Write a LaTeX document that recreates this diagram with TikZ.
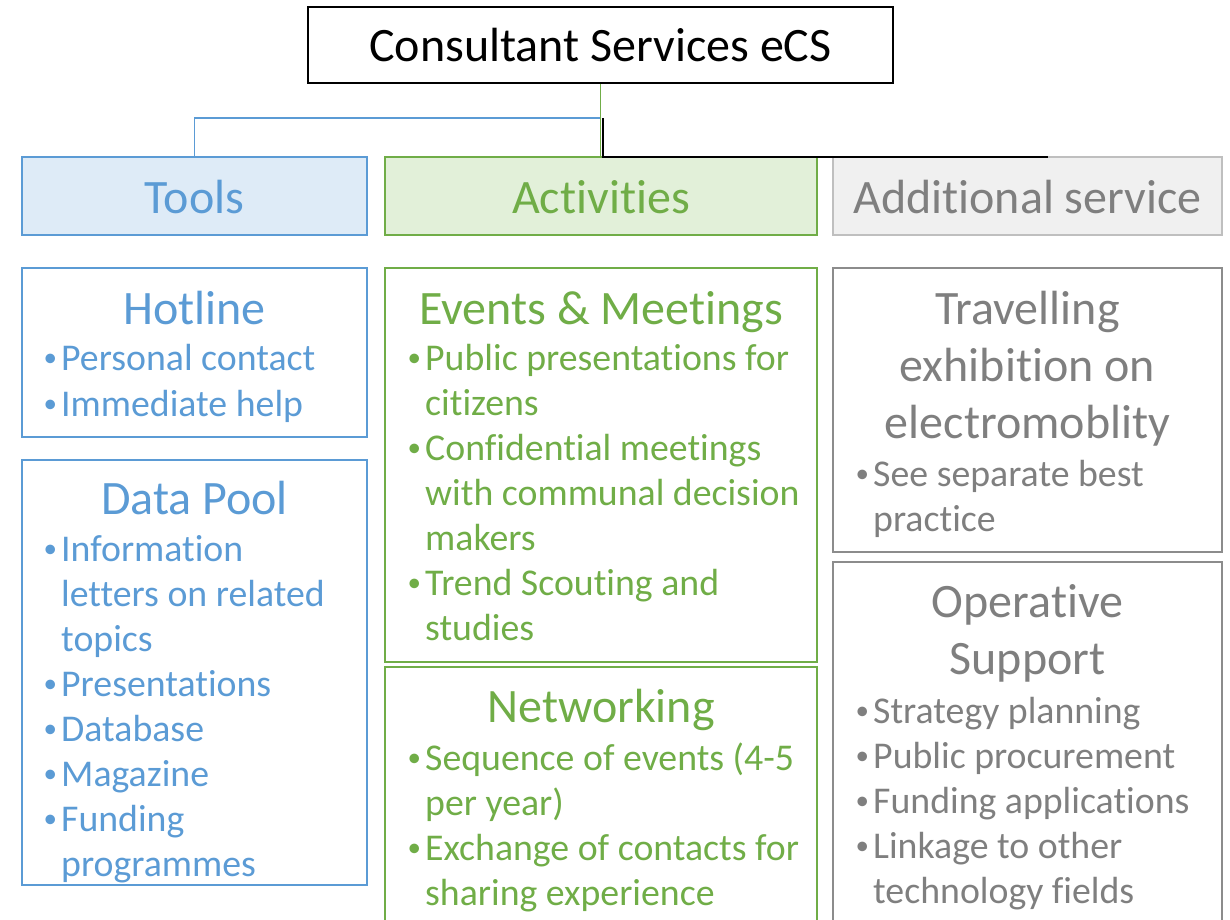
\documentclass[tikz,border=0pt]{standalone}
\usepackage{fontspec}
\setmainfont{Carlito}[Ligatures={NoCommon}]
\definecolor{cblue}{HTML}{5B9BD5}
\definecolor{cbluefill}{HTML}{DEEBF7}
\definecolor{cgreen}{HTML}{70AD47}
\definecolor{cgreenfill}{HTML}{E2F0D9}
\definecolor{cgray}{HTML}{7F7F7F}
\definecolor{cgrayfill}{HTML}{F0F0F0}
\definecolor{cgrayline}{HTML}{BFBFBF}
\definecolor{cgrayline2}{HTML}{8C8C8C}
\newcommand\bul{\makebox[18pt][l]{\hspace{0.5pt}\raisebox{3.5pt}{\fontsize{27pt}{27pt}\selectfont •}}}
\tikzset{
  box/.style={rectangle, inner sep=0pt, line width=1.5pt},
  item/.style={anchor=base west, inner sep=0pt, font=\fontsize{37.8pt}{40pt}\selectfont},
  head/.style={anchor=base, inner sep=0pt, font=\fontsize{48pt}{50pt}\selectfont},
  hdr/.style={anchor=base, inner sep=0pt, font=\fontsize{48pt}{50pt}\selectfont},
}
\begin{document}
\begin{tikzpicture}[x=1pt,y=-1pt]
\useasboundingbox (0,0) rectangle (1230,919);
% title
\node[box, draw=black, minimum width=585pt, minimum height=76pt] (title) at (600.5,45) {};
\node[anchor=base, inner sep=0pt, font=\fontsize{48pt}{50pt}\selectfont] (titletxt) at (600.5,61) {Consultant Services eCS};
% header boxes
\node[box, draw=cblue, fill=cbluefill, minimum width=345pt, minimum height=78pt] (tools) at (194.5,196) {};
\node[box, draw=cgreen, fill=cgreenfill, minimum width=432pt, minimum height=78pt] (act) at (601,196) {};
\node[box, draw=cgrayline, fill=cgrayfill, minimum width=389pt, minimum height=78pt] (add) at (1027.5,196) {};
\node[hdr, text=cblue] (toolstxt) at (194.5,213) {Tools};
\node[hdr, text=cgreen] (acttxt) at (601,213) {Activities};
\node[hdr, text=cgray] (addtxt) at (1027.5,213) {Additional service};
% connectors
\coordinate (jn) at (600,118);
\draw[cblue, line width=1.5pt] (tools.north) |- (jn);
\draw[cgreen, line width=1.5pt] (title.south) -- (title.south |- act.north);
\coordinate (bk1) at (603,118);
\coordinate (bk2) at (1048,157);
\draw[black, line width=1.5pt] (bk1) |- (bk2);
% content boxes
\node[box, draw=cblue, minimum width=345pt, minimum height=169pt] (hot) at (194.5,352.5) {};
\node[box, draw=cblue, minimum width=345pt, minimum height=425pt] (pool) at (194.5,672.5) {};
\node[box, draw=cgreen, minimum width=432pt, minimum height=394pt] (ev) at (601,465) {};
\node[box, draw=cgreen, minimum width=432pt, minimum height=263pt] (net) at (601,798.5) {};
\node[box, draw=cgrayline2, minimum width=389pt, minimum height=284pt] (trav) at (1027.5,410) {};
\node[box, draw=cgrayline2, minimum width=389pt, minimum height=368pt] (op) at (1027.5,746) {};
% Hotline
\node[head, text=cblue] (hoth) at (194.5,324) {Hotline};
\node[item, text=cblue] (hot1) at (43,370) {\bul Personal contact};
\node[item, text=cblue] (hot2) at (43,416) {\bul Immediate help};
% Data Pool
\node[head, text=cblue] (poolh) at (194.5,514) {Data Pool};
\node[item, text=cblue] (pool1) at (43,561) {\bul Information};
\node[item, text=cblue] (pool1b) at (61,606) {letters on related};
\node[item, text=cblue] (pool1c) at (61,651) {topics};
\node[item, text=cblue] (pool2) at (43,696) {\bul Presentations};
\node[item, text=cblue] (pool3) at (43,741) {\bul Database};
\node[item, text=cblue] (pool4) at (43,786) {\bul Magazine};
\node[item, text=cblue] (pool5) at (43,831) {\bul Funding};
\node[item, text=cblue] (pool5b) at (61,876) {programmes};
% Events
\node[head, text=cgreen] (evh) at (601,324) {Events \& Meetings};
\node[item, text=cgreen] (ev1) at (407,370) {\bul Public presentations for};
\node[item, text=cgreen] (ev1b) at (425,415) {citizens};
\node[item, text=cgreen] (ev2) at (407,460) {\bul Confidential meetings};
\node[item, text=cgreen] (ev2b) at (425,505) {with communal decision};
\node[item, text=cgreen] (ev2c) at (425,550) {makers};
\node[item, text=cgreen] (ev3) at (407,595) {\bul Trend Scouting and};
\node[item, text=cgreen] (ev3b) at (425,640) {studies};
% Networking
\node[head, text=cgreen] (neth) at (601,722) {Networking};
\node[item, text=cgreen] (net1) at (407,770) {\bul Sequence of events (4-5};
\node[item, text=cgreen] (net1b) at (425,815) {per year)};
\node[item, text=cgreen] (net2) at (407,860) {\bul Exchange of contacts for};
\node[item, text=cgreen] (net2b) at (425,905) {sharing experience};
% Travelling
\node[head, text=cgray] (travh1) at (1027.5,324) {Travelling};
\node[head, text=cgray] (travh2) at (1027.5,381) {exhibition on};
\node[head, text=cgray] (travh3) at (1027.5,438) {electromoblity};
\node[item, text=cgray] (trav1) at (855,486) {\bul See separate best};
\node[item, text=cgray] (trav1b) at (873,531) {practice};
% Operative
\node[head, text=cgray] (oph1) at (1027.5,617) {Operative};
\node[head, text=cgray] (oph2) at (1027.5,674) {Support};
\node[item, text=cgray] (op1) at (855,723) {\bul Strategy planning};
\node[item, text=cgray] (op2) at (855,768) {\bul Public procurement};
\node[item, text=cgray] (op3) at (855,813) {\bul Funding applications};
\node[item, text=cgray] (op4) at (855,858) {\bul Linkage to other};
\node[item, text=cgray] (op4b) at (873,903) {technology fields};
\end{tikzpicture}
\end{document}
